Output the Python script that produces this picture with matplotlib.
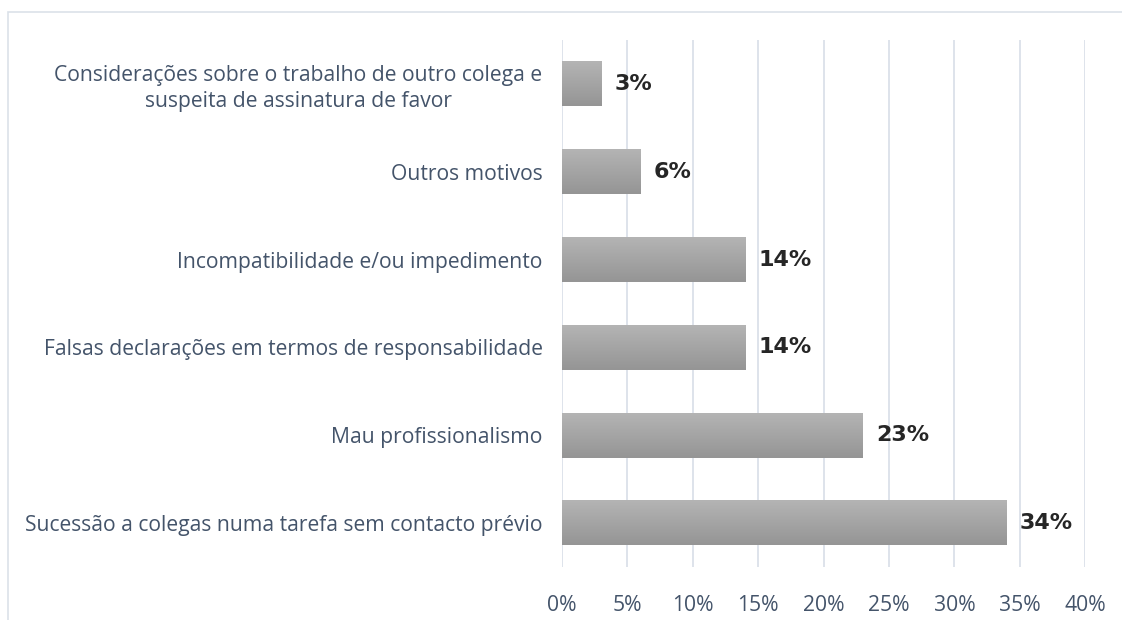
import numpy as np
import matplotlib.pyplot as plt
from matplotlib.patches import Rectangle

categories = [
    'Sucessão a colegas numa tarefa sem contacto prévio',
    'Mau profissionalismo',
    'Falsas declarações em termos de responsabilidade',
    'Incompatibilidade e/ou impedimento',
    'Outros motivos',
    'Considerações sobre o trabalho de outro colega e\nsuspeita de assinatura de favor',
]
values = [34, 23, 14, 14, 6, 3]
xticks = [0, 5, 10, 15, 20, 25, 30, 35, 40]

text_color = '#44546a'
grid_color = '#dbe1e9'

fig = plt.figure(figsize=(11.22, 6.2), dpi=100)
fig.patches.append(Rectangle((8 / 1122, -0.1), 1.2, 1.1 - 12 / 620,
                             transform=fig.transFigure, fill=False,
                             edgecolor=grid_color, linewidth=1.2))

ax = fig.add_axes([0.5009, 0.0855, 0.4662, 0.85])
y = np.arange(len(categories))
bars = ax.barh(y, values, height=0.51, color='#a6a6a6', zorder=2)

# vertical gradient on every bar, light on top, darker at the bottom
grad = np.linspace(0, 1, 64).reshape(-1, 1)
cmap = plt.matplotlib.colors.LinearSegmentedColormap.from_list('g', ['#b4b4b4', '#959595'])
for b in bars:
    x0, y0 = b.get_x(), b.get_y()
    w, h = b.get_width(), b.get_height()
    ax.imshow(grad, extent=[x0, x0 + w, y0, y0 + h], cmap=cmap,
              aspect='auto', zorder=3, origin='upper')

for b, v in zip(bars, values):
    ax.text(b.get_width() + 1.0, b.get_y() + b.get_height() / 2, f'{v}%',
            va='center', ha='left', fontsize=16, fontweight='bold',
            color='#262626', family='DejaVu Sans')

ax.set_xlim(0, 40)
ax.set_ylim(-0.5, len(categories) - 0.5)
ax.set_xticks(xticks)
ax.set_xticklabels([f'{t}%' for t in xticks])
ax.set_yticks(y)
ax.set_yticklabels(categories)
for lbl in ax.get_yticklabels():
    lbl.set_multialignment('center')
    lbl.set_linespacing(1.3)
for lbl in ax.get_xticklabels() + ax.get_yticklabels():
    lbl.set_family('Open Sans')
    lbl.set_fontsize(15.2)
    lbl.set_color(text_color)

ax.grid(axis='x', color=grid_color, linewidth=1.3, zorder=0)
ax.tick_params(axis='both', length=0)
ax.tick_params(axis='y', pad=14)
ax.tick_params(axis='x', pad=20)
for s in ax.spines.values():
    s.set_visible(False)

fig.savefig('out.png', dpi=100)
